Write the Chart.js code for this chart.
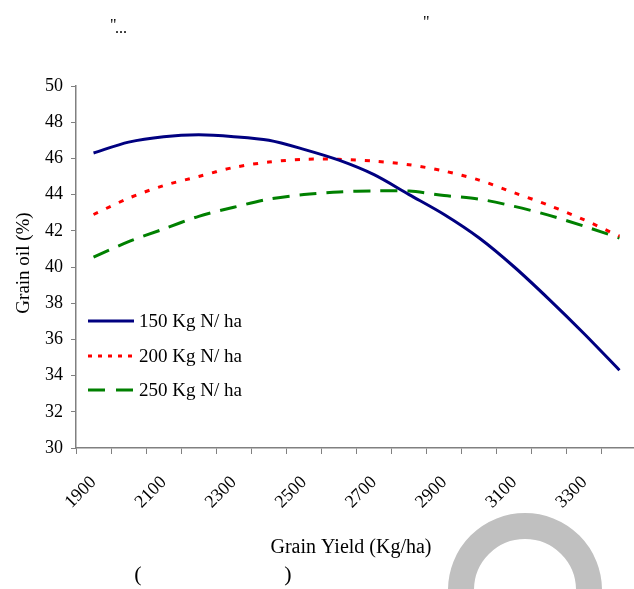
<!DOCTYPE html>
<html>
<head>
<meta charset="utf-8">
<script src="https://cdn.jsdelivr.net/npm/chart.js@4.4.1/dist/chart.umd.min.js"></script>
<style>
  html, body { margin: 0; padding: 0; background: #fff; }
  #wrap { position: relative; width: 634px; height: 589px; overflow: hidden; }
  #chart { position: absolute; left: 0; top: 0; }
</style>
</head>
<body>
<div id="wrap">
  <canvas id="chart" width="637" height="589"></canvas>
</div>
<script>
// Grain yield categories (Kg/ha)
const yields = ['1900', '2000', '2100', '2200', '2300', '2400', '2500', '2600',
                '2700', '2800', '2900', '3000', '3100', '3200', '3300', '3400'];
// only every other yield gets a label
const shownLabels = ['1900', '2100', '2300', '2500', '2700', '2900', '3100', '3300'];

// Grain oil (%)
const oil150 = [46.3, 46.9, 47.2, 47.3, 47.2, 47.0, 46.5, 45.9,
                45.1, 44.0, 42.9, 41.6, 40.0, 38.2, 36.3, 34.3];
const oil200 = [42.9, 43.8, 44.5, 45.0, 45.5, 45.8, 45.95, 45.95,
                45.85, 45.65, 45.3, 44.8, 44.1, 43.4, 42.6, 41.7];
const oil250 = [40.55, 41.4, 42.1, 42.8, 43.3, 43.75, 44.0, 44.15,
                44.2, 44.2, 43.95, 43.75, 43.35, 42.85, 42.25, 41.6];

const seriesNames = ['150 Kg N/ ha', '200 Kg N/ ha', '250 Kg N/ ha'];
const yTicks = [30, 32, 34, 36, 38, 40, 42, 44, 46, 48, 50];

const serif = '"Liberation Serif", "DejaVu Serif", serif';
const axisGrey = '#808080';

// legend, axis titles and the stray marks of the original page
const extrasPlugin = {
    id: 'extras',
    afterDraw(chart) {
        const c = chart.ctx;
        c.save();

        // legend inside the plot
        const rows = [321, 356, 390];
        const legendDash = [[], [4, 6], [17, 11]];
        chart.data.datasets.forEach((ds, i) => {
            c.strokeStyle = ds.borderColor;
            c.lineWidth = 3;
            c.setLineDash(legendDash[i]);
            c.beginPath();
            c.moveTo(88, rows[i]);
            c.lineTo(134, rows[i]);
            c.stroke();
            c.setLineDash([]);
            c.fillStyle = '#000';
            c.font = '19px ' + serif;
            c.textAlign = 'left';
            c.textBaseline = 'middle';
            c.fillText(ds.label, 139, rows[i] + 1);
        });

        // axis titles
        c.fillStyle = '#000';
        c.textAlign = 'center';
        c.textBaseline = 'middle';
        c.font = '20px ' + serif;
        c.fillText('Grain Yield (Kg/ha)', 351, 548);
        c.font = '19px ' + serif;
        c.save();
        c.translate(24, 263);
        c.rotate(-Math.PI / 2);
        c.fillText('Grain oil (%)', 0, 0);
        c.restore();

        // leftover brackets and quotes
        c.font = '22px ' + serif;
        c.fillText('(', 138, 575);
        c.fillText(')', 288, 575);
        c.font = '16px ' + serif;
        c.textAlign = 'left';
        c.textBaseline = 'alphabetic';
        c.fillText('"', 110, 30);
        c.fillText('...', 115, 33);
        c.fillText('"', 423, 27);

        // grey watermark arch
        c.strokeStyle = '#c0c0c0';
        c.lineWidth = 26;
        c.beginPath();
        c.arc(525, 590, 64, Math.PI * 1.0, Math.PI * 2.0);
        c.stroke();
        c.restore();
    }
};

new Chart(document.getElementById('chart'), {
    type: 'line',
    data: {
        labels: yields,
        datasets: [
            { label: seriesNames[0], data: oil150, borderColor: '#000080', borderWidth: 3 },
            { label: seriesNames[1], data: oil200, borderColor: '#ff0000', borderWidth: 3, borderDash: [5, 9] },
            { label: seriesNames[2], data: oil250, borderColor: '#008000', borderWidth: 3, borderDash: [17, 10] }
        ]
    },
    options: {
        responsive: false,
        animation: false,
        devicePixelRatio: 1,
        layout: { padding: { top: 86, right: 0, bottom: 0, left: 0 } },
        elements: {
            point: { radius: 0 },
            line: { tension: 0.3, fill: false, borderCapStyle: 'butt' }
        },
        plugins: {
            legend: { display: false },
            tooltip: { enabled: false }
        },
        scales: {
            x: {
                type: 'category',
                offset: true,
                grid: { offset: true, drawOnChartArea: false, drawTicks: true, tickLength: 6, color: axisGrey },
                border: { color: axisGrey, width: 1.5 },
                ticks: {
                    autoSkip: false,
                    minRotation: 45,
                    maxRotation: 45,
                    padding: 18,
                    color: '#000',
                    font: { family: serif, size: 18 },
                    callback: function (value) {
                        const lbl = this.getLabelForValue(value);
                        return shownLabels.includes(lbl) ? lbl : '';
                    }
                },
                afterFit: (scale) => {
                    scale.height = 141;
                    // the plot runs right up to the page edge
                    scale.paddingRight = 0;
                }
            },
            y: {
                min: 30,
                max: 50,
                grid: { drawOnChartArea: false, drawTicks: true, tickLength: 5, color: axisGrey },
                border: { color: axisGrey, width: 1.5 },
                ticks: {
                    stepSize: 2,
                    padding: 8,
                    color: '#000',
                    font: { family: serif, size: 18 }
                },
                afterBuildTicks: (scale) => { scale.ticks = yTicks.map(v => ({ value: v })); },
                afterFit: (scale) => { scale.width = 76; }
            }
        }
    },
    plugins: [extrasPlugin]
});
</script>
</body>
</html>
